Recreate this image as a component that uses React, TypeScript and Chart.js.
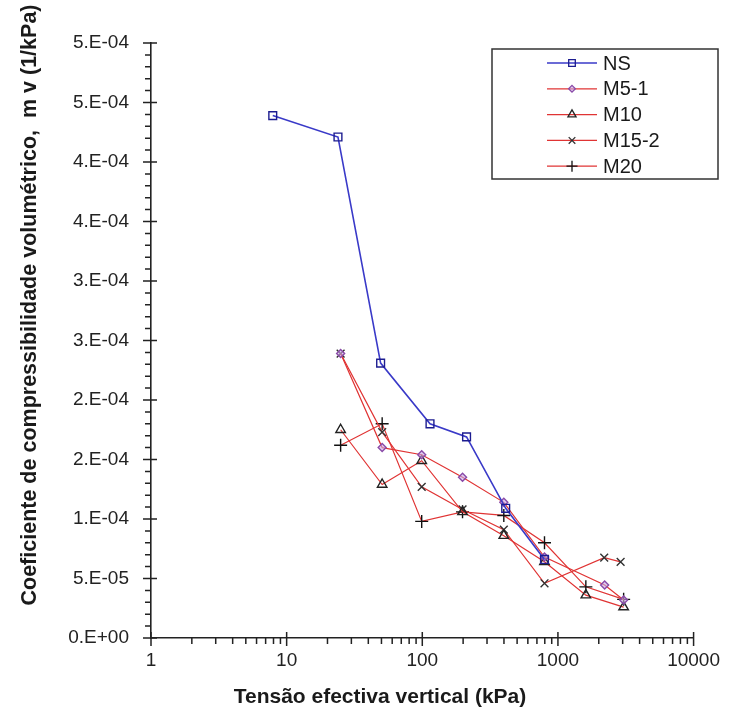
import React, { useEffect, useRef } from 'react';
import { Chart, registerables } from 'chart.js';

Chart.register(...registerables);

// ---- data ----
const seriesNames = ['NS', 'M5-1', 'M10', 'M15-2', 'M20'];

const nsX = [7.9, 23.9, 49.3, 114, 212, 412, 796];
const nsY = [4.39e-4, 4.21e-4, 2.31e-4, 1.8e-4, 1.69e-4, 1.09e-4, 6.6e-5];

const m5X = [25, 50.6, 99, 198, 399, 796, 2210, 3050];
const m5Y = [2.39e-4, 1.6e-4, 1.54e-4, 1.35e-4, 1.14e-4, 6.8e-5, 4.45e-5, 3.2e-5];

const m10X = [25, 50.6, 99, 198, 399, 796, 1606, 3050];
const m10Y = [1.75e-4, 1.29e-4, 1.49e-4, 1.06e-4, 8.6e-5, 6.4e-5, 3.6e-5, 2.6e-5];

const m15X = [25, 50.6, 99, 198, 399, 796, 2194, 2898];
const m15Y = [2.39e-4, 1.73e-4, 1.27e-4, 1.08e-4, 9.1e-5, 4.6e-5, 6.75e-5, 6.4e-5];

const m20X = [25, 50.6, 99, 198, 399, 796, 1606, 3050];
const m20Y = [1.62e-4, 1.8e-4, 9.8e-5, 1.06e-4, 1.03e-4, 8.0e-5, 4.3e-5, 3.25e-5];

const xTicks = [1, 10, 100, 1000, 10000];
const xTickLabels = ['1', '10', '100', '1000', '10000'];
const yTicks = [0, 5e-5, 1e-4, 1.5e-4, 2e-4, 2.5e-4, 3e-4, 3.5e-4, 4e-4, 4.5e-4, 5e-4];
const yTickLabels = ['0.E+00', '5.E-05', '1.E-04', '2.E-04', '2.E-04', '3.E-04', '3.E-04', '4.E-04', '4.E-04', '5.E-04', '5.E-04'];

const xTitle = 'Tensão efectiva vertical (kPa)';
const yTitle = 'Coeficiente de compressibilidade volumétrico,  m v (1/kPa)';

const FONT = '"Liberation Sans", Arial, sans-serif';
const RED = '#e03434';
const BLUE = '#3a3ac8';

const styles = [
  { line: BLUE, point: 'rect', pColor: '#1c1c90', fill: 'rgba(255,255,255,0)', r: 5.5 },
  { line: RED, point: 'rectRot', pColor: '#8a4aa8', fill: 'rgba(200,170,230,0.6)', r: 4 },
  { line: RED, point: 'triangle', pColor: '#222', fill: 'rgba(255,255,255,0)', r: 5.5 },
  { line: RED, point: 'crossRot', pColor: '#333', fill: 'rgba(255,255,255,0)', r: 5.5 },
  { line: RED, point: 'cross', pColor: '#111', fill: 'rgba(255,255,255,0)', r: 6.5 },
];

const xs = [nsX, m5X, m10X, m15X, m20X];
const ys = [nsY, m5Y, m10Y, m15Y, m20Y];

function drawMarker(ctx: CanvasRenderingContext2D, style: string, x: number, y: number, r: number) {
  ctx.beginPath();
  if (style === 'rect') {
    const s = Math.SQRT1_2 * r;
    ctx.rect(x - s, y - s, 2 * s, 2 * s);
    ctx.fill();
    ctx.stroke();
  } else if (style === 'rectRot') {
    ctx.moveTo(x, y - r);
    ctx.lineTo(x + r, y);
    ctx.lineTo(x, y + r);
    ctx.lineTo(x - r, y);
    ctx.closePath();
    ctx.fill();
    ctx.stroke();
  } else if (style === 'triangle') {
    ctx.moveTo(x, y - r);
    ctx.lineTo(x + r * 0.866, y + r * 0.5);
    ctx.lineTo(x - r * 0.866, y + r * 0.5);
    ctx.closePath();
    ctx.fill();
    ctx.stroke();
  } else if (style === 'crossRot') {
    const s = Math.SQRT1_2 * r;
    ctx.moveTo(x - s, y - s);
    ctx.lineTo(x + s, y + s);
    ctx.moveTo(x - s, y + s);
    ctx.lineTo(x + s, y - s);
    ctx.stroke();
  } else {
    ctx.moveTo(x - r, y);
    ctx.lineTo(x + r, y);
    ctx.moveTo(x, y - r);
    ctx.lineTo(x, y + r);
    ctx.stroke();
  }
}

const decorPlugin = {
  id: 'decor',
  afterDraw(chart: any) {
    const { ctx, chartArea: a, scales } = chart;
    const x = scales.x;
    const y = scales.y;
    ctx.save();
    ctx.strokeStyle = '#222';
    ctx.lineWidth = 1.5;
    ctx.beginPath();
    yTicks.forEach((v) => {
      const py = y.getPixelForValue(v);
      ctx.moveTo(a.left - 8, py);
      ctx.lineTo(a.left + 6, py);
    });
    for (let i = 0; i < yTicks.length - 1; i++) {
      for (let k = 1; k < 5; k++) {
        const py = y.getPixelForValue(yTicks[i] + ((yTicks[i + 1] - yTicks[i]) * k) / 5);
        ctx.moveTo(a.left - 6, py);
        ctx.lineTo(a.left, py);
      }
    }
    xTicks.forEach((v) => {
      const px = x.getPixelForValue(v);
      ctx.moveTo(px, a.bottom - 6);
      ctx.lineTo(px, a.bottom + 8);
    });
    for (let i = 0; i < xTicks.length - 1; i++) {
      for (let m = 2; m < 10; m++) {
        const px = x.getPixelForValue(xTicks[i] * m);
        ctx.moveTo(px, a.bottom);
        ctx.lineTo(px, a.bottom + 6);
      }
    }
    ctx.stroke();

    // axis titles
    ctx.fillStyle = '#1a1a1a';
    ctx.font = `bold 21px ${FONT}`;
    ctx.textAlign = 'center';
    ctx.textBaseline = 'middle';
    ctx.fillText(xTitle, 380, 697);
    ctx.save();
    ctx.translate(30, 305);
    ctx.rotate(-Math.PI / 2);
    ctx.font = `bold 21.5px ${FONT}`;
    ctx.fillText(yTitle, 0, 0);
    ctx.restore();

    // legend
    const lx = 492, ly = 49, lw = 226, lh = 130;
    ctx.fillStyle = '#fff';
    ctx.fillRect(lx, ly, lw, lh);
    ctx.strokeStyle = '#333';
    ctx.lineWidth = 1.5;
    ctx.strokeRect(lx, ly, lw, lh);
    ctx.font = `20px ${FONT}`;
    ctx.textAlign = 'left';
    ctx.textBaseline = 'middle';
    seriesNames.forEach((name, i) => {
      const cy = 63 + i * 25.8;
      const st = styles[i];
      ctx.strokeStyle = st.line;
      ctx.lineWidth = 1.3;
      ctx.beginPath();
      ctx.moveTo(547, cy);
      ctx.lineTo(597, cy);
      ctx.stroke();
      ctx.strokeStyle = st.pColor;
      ctx.fillStyle = st.fill;
      ctx.lineWidth = 1.3;
      drawMarker(ctx, st.point, 572, cy, st.r * 0.85);
      ctx.fillStyle = '#1a1a1a';
      ctx.fillText(name, 603, cy + 1);
    });
    ctx.restore();
  },
};

export default function App() {
  const ref = useRef<HTMLCanvasElement>(null);
  useEffect(() => {
    if (!ref.current) return;
    const datasets = seriesNames.map((name, i) => ({
      label: name,
      data: xs[i].map((xv, j) => ({ x: xv, y: ys[i][j] })),
      borderColor: styles[i].line,
      borderWidth: i === 0 ? 1.6 : 1.2,
      pointStyle: styles[i].point as any,
      pointRadius: styles[i].r,
      pointBorderColor: styles[i].pColor,
      pointBackgroundColor: styles[i].fill,
      pointBorderWidth: 1.4,
      showLine: true,
      fill: false,
      tension: 0,
    }));
    const chart = new Chart(ref.current, {
      type: 'scatter',
      data: { datasets },
      options: {
        animation: false,
        responsive: false,
        maintainAspectRatio: false,
        layout: { padding: { top: 43, right: 34, left: 0, bottom: 0 } },
        plugins: { legend: { display: false }, tooltip: { enabled: false } },
        scales: {
          x: {
            type: 'logarithmic',
            min: 1,
            max: 10000,
            afterBuildTicks: (s: any) => {
              s.ticks = xTicks.map((v) => ({ value: v }));
            },
            afterFit: (s: any) => {
              s.height = 79;
            },
            ticks: {
              autoSkip: false,
              maxRotation: 0,
              padding: 11,
              color: '#222',
              font: { family: FONT, size: 19 },
              callback: (_v: any, i: number) => xTickLabels[i],
            },
            grid: { display: false, drawTicks: false },
            border: { display: true, color: '#222', width: 1.6 },
          },
          y: {
            type: 'linear',
            min: 0,
            max: 5e-4,
            afterBuildTicks: (s: any) => {
              s.ticks = yTicks.map((v) => ({ value: v }));
            },
            afterFit: (s: any) => {
              s.width = 151;
            },
            ticks: {
              autoSkip: false,
              padding: 22,
              color: '#222',
              font: { family: FONT, size: 19 },
              callback: (_v: any, i: number) => yTickLabels[i],
            },
            grid: { display: false, drawTicks: false },
            border: { display: true, color: '#222', width: 1.6 },
          },
        },
      },
      plugins: [decorPlugin],
    });
    return () => chart.destroy();
  }, []);
  return (
    <div style={{ position: 'absolute', left: 0, top: 0, width: 731, height: 717, background: '#fff' }}>
      <canvas ref={ref} width={731} height={717} style={{ width: 731, height: 717 }} />
    </div>
  );
}
